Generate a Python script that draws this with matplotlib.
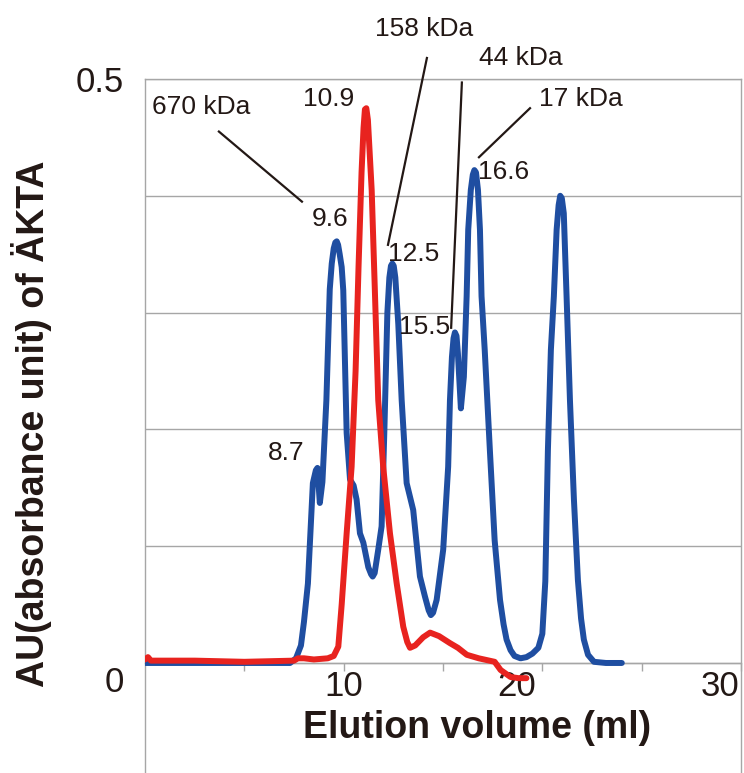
import matplotlib.pyplot as plt
import matplotlib.transforms as mtransforms

plt.rcParams['font.family'] = ['Liberation Sans', 'DejaVu Sans']

# blue trace: standards (elution volume ml, absorbance AU)
blue_x = [0.0, 3.0, 5.5, 7.3, 7.6, 7.85, 8.0, 8.2, 8.45, 8.6, 8.68, 8.8, 8.93, 9.13,
          9.3, 9.4, 9.5, 9.58, 9.65, 9.72, 9.8, 9.9, 9.98, 10.15, 10.32, 10.5, 10.65,
          10.82, 10.99, 11.24, 11.38, 11.46, 11.56, 11.74, 11.91, 12.05, 12.2, 12.3,
          12.38, 12.45, 12.52, 12.6, 12.75, 12.92, 13.17, 13.5, 13.84, 14.09, 14.28,
          14.39, 14.5, 14.68, 15.01, 15.26, 15.35, 15.45, 15.53, 15.6, 15.68, 15.75,
          15.9, 16.05, 16.19, 16.27, 16.4, 16.5, 16.58, 16.66, 16.76, 16.86, 16.94,
          17.1, 17.36, 17.6, 17.87, 18.05, 18.2, 18.4, 18.6, 18.9, 19.2, 19.5, 19.8,
          20.0, 20.15, 20.28, 20.43, 20.58, 20.72, 20.82, 20.9, 20.98, 21.08, 21.22,
          21.39, 21.59, 21.79, 21.95, 22.09, 22.3, 22.6, 23.2, 24.0]
blue_y = [0.0, 0.0, 0.0, 0.0, 0.004, 0.015, 0.035, 0.068, 0.154, 0.165, 0.167,
          0.137, 0.155, 0.225, 0.32, 0.342, 0.355, 0.36, 0.361, 0.358, 0.35, 0.339,
          0.319, 0.197, 0.157, 0.152, 0.14, 0.111, 0.103, 0.082, 0.076, 0.074,
          0.077, 0.097, 0.117, 0.2, 0.3, 0.33, 0.34, 0.342, 0.34, 0.33, 0.29, 0.225,
          0.154, 0.131, 0.074, 0.057, 0.045, 0.041, 0.043, 0.054, 0.097, 0.168,
          0.225, 0.262, 0.278, 0.283, 0.28, 0.265, 0.218, 0.245, 0.314, 0.371,
          0.405, 0.418, 0.422, 0.42, 0.405, 0.371, 0.314, 0.268, 0.182, 0.105,
          0.054, 0.033, 0.02, 0.011, 0.006, 0.004, 0.005, 0.008, 0.013, 0.025, 0.07,
          0.182, 0.268, 0.314, 0.371, 0.392, 0.4, 0.398, 0.385, 0.314, 0.225, 0.14,
          0.071, 0.038, 0.02, 0.007, 0.001, 0.0, 0.0]

# red trace: sample
red_x = [0.0, 0.15, 0.3, 2.5, 5.0, 7.5, 7.7, 8.0, 8.5, 9.2, 9.5, 9.73, 9.9, 10.15,
         10.4, 10.6, 10.75, 10.9, 11.0, 11.07, 11.14, 11.22, 11.41, 11.57, 11.74,
         11.99, 12.33, 12.67, 13.0, 13.2, 13.34, 13.6, 14.0, 14.35, 14.8, 15.35,
         15.75, 16.2, 16.8, 17.6, 17.9, 18.4, 18.8, 19.2]
red_y = [0.003, 0.005, 0.002, 0.002, 0.001, 0.002, 0.004, 0.004, 0.003, 0.004,
         0.006, 0.014, 0.05, 0.111, 0.168, 0.25, 0.34, 0.42, 0.458, 0.474, 0.475,
         0.465, 0.405, 0.319, 0.225, 0.168, 0.111, 0.068, 0.031, 0.018, 0.013,
         0.015, 0.022, 0.026, 0.023, 0.017, 0.013, 0.007, 0.004, 0.001, -0.006,
         -0.012, -0.013, -0.013]

# peak labels and the marker lines pointing at them
peak_labels = ['670 kDa', '9.6', '10.9', '158 kDa', '12.5', '44 kDa', '15.5',
               '17 kDa', '16.6', '8.7']
peak_label_x = [2.81, 9.31, 9.26, 14.04, 13.54, 18.92, 14.09, 21.94, 18.07, 7.09]
peak_label_y = [0.476, 0.380, 0.483, 0.543, 0.350, 0.518, 0.288, 0.483, 0.420, 0.180]
leader_x = [(3.72, 7.90), (14.19, 12.23), (15.95, 15.41), (19.38, 16.81)]
leader_y = [(0.455, 0.395), (0.518, 0.358), (0.497, 0.287), (0.475, 0.433)]

text_col = '#231815'
grid_col = '#a6a6a6'

fig = plt.figure(figsize=(7.44, 7.73), dpi=100)
ax = fig.add_axes([145 / 744, 0.0, 596 / 744, 694 / 773])

ax.plot(blue_x, blue_y, color='#1f4ea1', lw=4.3, solid_joinstyle='round',
        solid_capstyle='round', zorder=3)
ax.plot(red_x, red_y, color='#e8231f', lw=4.3, solid_joinstyle='round',
        solid_capstyle='round', zorder=4)

ax.set_xlim(0, 30)
ax.set_ylim(-0.0942, 0.5)

# axis cosmetics
for side in ['left', 'right', 'top', 'bottom']:
    ax.spines[side].set_color(grid_col)
    ax.spines[side].set_linewidth(1.0)
ax.spines['bottom'].set_position(('data', 0))

ax.set_yticks([0, 0.1, 0.2, 0.3, 0.4, 0.5])
ax.set_yticklabels(['0', '', '', '', '', '0.5'])
ax.tick_params(axis='y', length=0, pad=15, labelsize=25, labelcolor=text_col)
ax.yaxis.grid(True, color=grid_col, lw=1.0)
ax.set_axisbelow(True)

ax.set_xticks([10, 20, 30])
ax.set_xticklabels(['10', '20', '30'])
ax.set_xticks([5, 15, 25], minor=True)
ax.tick_params(axis='x', which='both', direction='out', length=6, width=1.0,
               color=grid_col, pad=-1, labelsize=25, labelcolor=text_col)

# the reference nudges some tick labels off their ticks
ylabels = ax.get_yticklabels()
ylabels[0].set_transform(ylabels[0].get_transform() +
                         mtransforms.ScaledTranslation(0, -0.16, fig.dpi_scale_trans))
xlabels = ax.get_xticklabels()
xlabels[1].set_transform(xlabels[1].get_transform() +
                         mtransforms.ScaledTranslation(-0.26, 0, fig.dpi_scale_trans))
xlabels[2].set_transform(xlabels[2].get_transform() +
                         mtransforms.ScaledTranslation(-0.21, 0, fig.dpi_scale_trans))

ax.set_xlabel('Elution volume (ml)', fontsize=27, fontweight='bold', color=text_col)
ax.xaxis.label.set_va('center')
ax.xaxis.set_label_coords(0.557, 0.065)
ax.set_ylabel('AU(absorbance unit) of ÄKTA', fontsize=27, fontweight='bold',
              color=text_col)
ax.yaxis.label.set_va('center')
ax.yaxis.set_label_coords(-0.19, 0.503)

for label, lx, ly in zip(peak_labels, peak_label_x, peak_label_y):
    ax.text(lx, ly, label, fontsize=19, color=text_col, ha='center', va='center',
            clip_on=False, zorder=5)
for lx, ly in zip(leader_x, leader_y):
    ax.plot(lx, ly, color=text_col, lw=1.6, clip_on=False, zorder=5)

fig.savefig('out.png', dpi=100)
